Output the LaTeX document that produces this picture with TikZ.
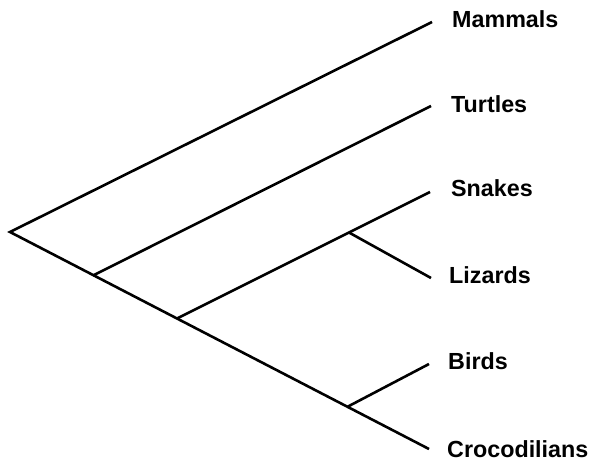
\documentclass[tikz,border=0pt]{standalone}
\usepackage{fontspec}
\setmainfont{Liberation Sans}
\begin{document}
\begin{tikzpicture}[x=1pt,y=-1pt,
  branch/.style={line width=2.6pt,line cap=butt,line join=miter},
  taxon/.style={anchor=base west,inner sep=0pt,font=\fontsize{23.3}{26}\selectfont\bfseries}]
\useasboundingbox (0,0) rectangle (591,461);
% internal nodes of the tree
\coordinate (root) at (10,232);
\coordinate (jT) at (93,275.5);
\coordinate (jS) at (177,318.5);
\coordinate (jSL) at (349,232.5);
\coordinate (jBC) at (348,406.5);
% branch tips
\coordinate (tM) at (432,22);
\coordinate (tT) at (431,106);
\coordinate (tS) at (430,192);
\coordinate (tL) at (431,278);
\coordinate (tB) at (429,364);
\coordinate (tC) at (429,449);
% taxon labels
\node[taxon] (mammals) at (452,27) {Mammals};
\node[taxon] (turtles) at (451,112) {Turtles};
\node[taxon] (snakes) at (451,196) {Snakes};
\node[taxon] (lizards) at (449,283) {Lizards};
\node[taxon] (birds) at (448,369) {Birds};
\node[taxon] (crocs) at (447,457) {Crocodilians};
% branches
\draw[branch] (tM) -- (root) -- (tC);
\draw[branch] (jT) -- (tT);
\draw[branch] (jS) -- (tS);
\draw[branch] (jSL) -- (tL);
\draw[branch] (jBC) -- (tB);
\end{tikzpicture}
\end{document}
